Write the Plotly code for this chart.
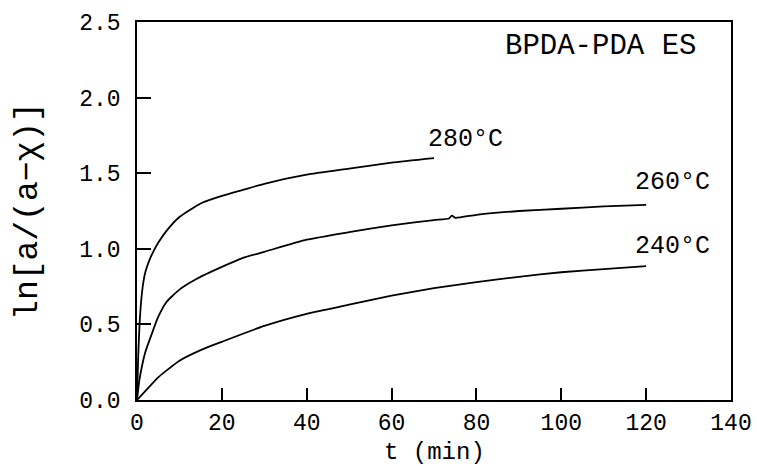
import plotly.graph_objects as go

t_280 = [0, 0.3, 0.6, 1.0, 1.5, 2.0, 3.0, 4.0, 5.0, 7.0, 10, 15, 20, 25, 30, 40, 50, 60, 70]
y_280 = [0, 0.30, 0.50, 0.66, 0.78, 0.85, 0.93, 0.99, 1.04, 1.12, 1.21, 1.30, 1.35, 1.39, 1.43, 1.49, 1.53, 1.57, 1.60]

t_260 = [0, 0.5, 1, 2, 3, 5, 7, 10, 14, 20, 25, 30, 40, 50, 60, 70, 73.5, 74.2, 75, 80, 90, 100, 110, 120]
y_260 = [0, 0.12, 0.20, 0.32, 0.40, 0.55, 0.65, 0.73, 0.80, 0.88, 0.94, 0.98, 1.06, 1.11, 1.155, 1.19, 1.20, 1.22, 1.205, 1.225, 1.25, 1.265, 1.28, 1.29]

t_240 = [0, 2, 5, 10, 15, 20, 30, 40, 50, 60, 70, 80, 90, 100, 110, 120]
y_240 = [0, 0.06, 0.15, 0.26, 0.33, 0.385, 0.49, 0.57, 0.63, 0.69, 0.74, 0.78, 0.815, 0.845, 0.865, 0.885]

labels = ["280°C", "260°C", "240°C"]
label_x = [68, 117, 117]
label_y = [1.72, 1.44, 1.015]

x_title = "t (min)"
y_title = "ln[a/(a−χ)]"

FONT = "Liberation Mono"

fig = go.Figure()
for tx, ty in [(t_280, y_280), (t_260, y_260), (t_240, y_240)]:
    fig.add_trace(go.Scatter(x=tx, y=ty, mode="lines",
                             line=dict(color="black", width=1.8, shape="spline", smoothing=0.5),
                             showlegend=False, hoverinfo="skip"))

for txt, lx, ly in zip(labels, label_x, label_y):
    fig.add_annotation(x=lx, y=ly, text=txt, showarrow=False, xanchor="left", yanchor="middle",
                       font=dict(family=FONT, size=25, color="black"))

fig.add_annotation(x=132.3, y=2.34, text="BPDA-PDA ES", showarrow=False, xanchor="right",
                   yanchor="middle", font=dict(family=FONT, size=29, color="black"))

# x-axis title placed just below the tick labels
fig.add_annotation(x=0.5, xref="paper", y=-0.138, yref="paper", text=x_title, showarrow=False,
                   xanchor="center", yanchor="middle", font=dict(family=FONT, size=24, color="black"))

axis_common = dict(showline=True, linecolor="black", linewidth=1.5, mirror=True,
                   ticks="inside", tickcolor="black", tickwidth=1.5,
                   showgrid=False, zeroline=False, automargin=False,
                   tickfont=dict(family=FONT, size=23, color="black"))

fig.update_xaxes(range=[0, 140], tickvals=[0, 20, 40, 60, 80, 100, 120, 140], ticklen=12,
                 ticklabelstandoff=1, **axis_common)
fig.update_yaxes(range=[0, 2.5], tickvals=[0, 0.5, 1.0, 1.5, 2.0, 2.5], ticktext=["0.0", "0.5", "1.0", "1.5", "2.0", "2.5"],
                 ticklen=14, ticklabelstandoff=10,
                 title=dict(text=y_title, font=dict(family=FONT, size=33, color="black"), standoff=32),
                 **axis_common)

fig.update_layout(width=757, height=466, margin=dict(l=137, r=26, t=22, b=66),
                  plot_bgcolor="white", paper_bgcolor="white")

fig.write_html("out.html", config={"displayModeBar": False},
               post_script="document.body.style.margin='0';document.body.style.overflow='hidden';")
